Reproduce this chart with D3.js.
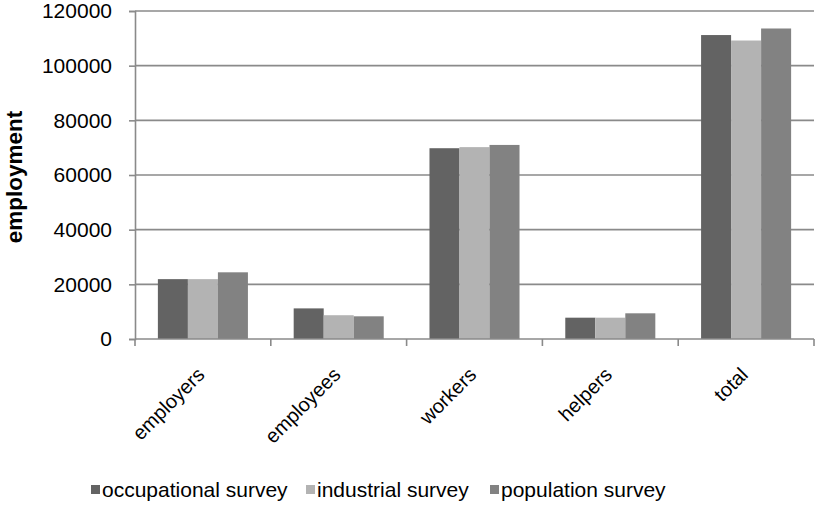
<!DOCTYPE html>
<html>
<head>
<meta charset="utf-8">
<script src="https://cdn.jsdelivr.net/npm/d3@7"></script>
<style>
  html, body { margin: 0; padding: 0; background: #fff; }
  svg { display: block; font-family: "Liberation Sans", Arial, sans-serif; }
</style>
</head>
<body>
<svg id="chart" width="815" height="505"></svg>
<script>
// Employment by status, as counted by three surveys
const categories = ["employers", "employees", "workers", "helpers", "total"];
const seriesNames = ["occupational survey", "industrial survey", "population survey"];
const occupational = [21900, 11200, 69800, 7800, 111200];
const industrial = [21900, 8700, 70200, 7800, 109200];
const population = [24400, 8300, 71000, 9400, 113600];
const yTicks = [0, 20000, 40000, 60000, 80000, 100000, 120000];
const colors = ["#636363", "#b3b3b3", "#828282"];

const seriesValues = [occupational, industrial, population];

const svg = d3.select("#chart");
const plotLeft = 135, plotRight = 814, plotTop = 11, plotBottom = 339;

const x0 = d3.scaleBand().domain(categories).range([plotLeft, plotRight])
  .paddingInner(0.337).paddingOuter(0.337 / 2);
const x1 = d3.scaleBand().domain(d3.range(seriesNames.length)).range([0, x0.bandwidth()]);
const y = d3.scaleLinear().domain([0, 120000]).range([plotBottom, plotTop]);

// horizontal gridlines
svg.append("g")
  .selectAll("line")
  .data(yTicks.filter(t => t > 0))
  .join("line")
  .attr("x1", plotLeft).attr("x2", plotRight)
  .attr("y1", d => y(d)).attr("y2", d => y(d))
  .attr("stroke", "#8a8a8a").attr("stroke-width", 1.6);

// bars
const groups = svg.append("g")
  .selectAll("g")
  .data(categories)
  .join("g")
  .attr("transform", d => `translate(${x0(d)},0)`);

groups.selectAll("rect")
  .data((c, ci) => seriesValues.map((vals, si) => ({ si, v: vals[ci] })))
  .join("rect")
  .attr("x", d => x1(d.si))
  .attr("width", x1.bandwidth())
  .attr("y", d => y(d.v))
  .attr("height", d => y(0) - y(d.v))
  .attr("fill", d => colors[d.si]);

// y axis
const yAxis = svg.append("g")
  .attr("transform", `translate(${plotLeft},0)`)
  .call(d3.axisLeft(y).tickValues(yTicks).tickFormat(d3.format("d")).tickSize(6).tickPadding(17));
yAxis.select(".domain").attr("stroke", "#8a8a8a").attr("stroke-width", 1.6);
yAxis.selectAll(".tick line").attr("stroke", "#8a8a8a").attr("stroke-width", 1.6);
yAxis.selectAll(".tick text")
  .attr("font-size", 21).attr("fill", "#000")
  .attr("font-family", "Liberation Sans, Arial, sans-serif");

// x axis: category boundary ticks
const xAxis = svg.append("g");
xAxis.append("line")
  .attr("x1", plotLeft).attr("x2", plotRight)
  .attr("y1", plotBottom).attr("y2", plotBottom)
  .attr("stroke", "#8a8a8a").attr("stroke-width", 1.6);
const boundaries = categories.map(c => x0(c) - x0.step() * x0.paddingInner() / 2)
  .concat([plotRight]);
xAxis.selectAll("line.tick")
  .data(boundaries)
  .join("line")
  .attr("class", "tick")
  .attr("x1", d => d).attr("x2", d => d)
  .attr("y1", plotBottom).attr("y2", plotBottom + 7)
  .attr("stroke", "#8a8a8a").attr("stroke-width", 1.6);

xAxis.selectAll("text")
  .data(categories)
  .join("text")
  .attr("transform", d => `translate(${x0(d) + x0.bandwidth() / 2 + 3},${plotBottom + 37}) rotate(-45)`)
  .attr("text-anchor", "end")
  .attr("font-size", 20)
  .attr("fill", "#000")
  .text(d => d);

// y axis title
svg.append("text")
  .attr("transform", `translate(22,${(plotTop + plotBottom) / 2 + 2}) rotate(-90)`)
  .attr("text-anchor", "middle")
  .attr("font-size", 22.5)
  .attr("font-weight", "bold")
  .attr("fill", "#000")
  .text("employment");

// legend
const legend = svg.append("g").attr("transform", "translate(0,497)");
const legendX = [91, 306, 490];
const items = legend.selectAll("g")
  .data(seriesNames)
  .join("g")
  .attr("transform", (d, i) => `translate(${legendX[i]},0)`);
items.append("rect")
  .attr("x", 0).attr("y", -12).attr("width", 9).attr("height", 9)
  .attr("fill", (d, i) => colors[i]);
items.append("text")
  .attr("x", 11).attr("y", 0)
  .attr("font-size", 21)
  .attr("fill", "#000")
  .text(d => d);
</script>
</body>
</html>
